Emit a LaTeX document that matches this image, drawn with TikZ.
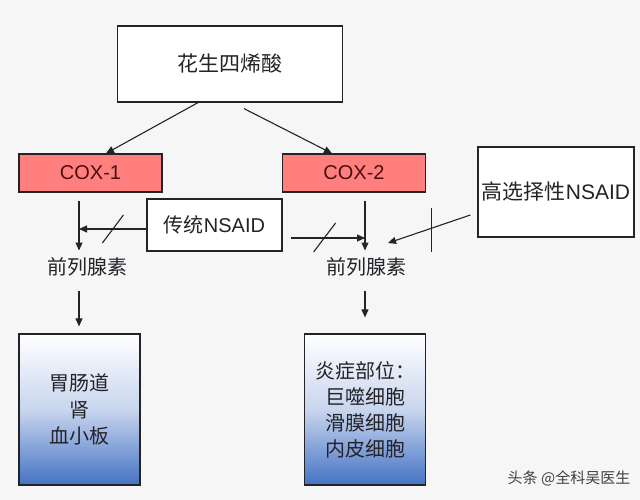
\documentclass[tikz,border=0pt]{standalone}
\usepackage{fontspec}
\setmainfont{Liberation Sans}
\newfontfamily\cjk{Noto Sans CJK SC}
\usetikzlibrary{arrows.meta}

\definecolor{bgcol}{RGB}{246,246,247}
\definecolor{coxred}{RGB}{255,127,127}
\definecolor{coxtext}{RGB}{74,14,14}
\definecolor{orgblue}{RGB}{68,114,196}
\definecolor{orgmid}{RGB}{200,213,238}
\definecolor{inkcol}{RGB}{35,35,40}

\tikzset{
  box/.style={draw=inkcol, line width=1.2pt, inner sep=0pt, text=inkcol},
  coxbox/.style={box, fill=coxred, text=coxtext, minimum width=143pt, minimum height=38pt, font=\fontsize{20}{24}\selectfont},
  organ/.style={box, top color=white, bottom color=orgblue, middle color=orgmid, minimum width=121pt, minimum height=151pt},
  plain/.style={inner sep=0pt, text=inkcol, font=\cjk\fontsize{20}{24}\selectfont},
  arr/.style={draw=inkcol, line width=1.1pt, -{Triangle[length=8pt,width=7pt]}},
  cut/.style={draw=inkcol, line width=1.1pt}
}

\begin{document}
\begin{tikzpicture}[x=1pt, y=-1pt]
    \fill[bgcol] (0,0) rectangle (640,500);
    \useasboundingbox (0,0) rectangle (640,500);

    \node[box, fill=white, minimum width=225pt, minimum height=76pt, font=\cjk\fontsize{21}{25}\selectfont] (aa) at (230,64) {花生四烯酸};
    \node[coxbox] (cox1) at (90.5,173) {COX-1};
    \node[coxbox] (cox2) at (354,173) {COX-2};
    \node[box, fill=white, minimum width=135pt, minimum height=52pt, font=\fontsize{20}{24}\selectfont] (trad) at (214.5,225) {{\cjk 传统}NSAID};
    \node[box, fill=white, minimum width=156pt, minimum height=90pt, font=\fontsize{21}{25}\selectfont] (sel) at (556,192) {{\cjk 高选择性}NSAID};
    \node[plain] (pg1) at (87,267) {前列腺素};
    \node[plain] (pg2) at (366,267) {前列腺素};
    \node[organ, align=center, font=\cjk\fontsize{20}{26.5}\selectfont] (gi) at (79.5,409.5) {胃肠道\\肾\\血小板};
    \node[organ, align=left, font=\cjk\fontsize{20}{26}\selectfont] (inf) at (365,409.5) {炎症部位：\\\hspace*{10pt}巨噬细胞\\\hspace*{10pt}滑膜细胞\\\hspace*{10pt}内皮细胞};
    \node[inner sep=0pt, text=black!75, font=\cjk\fontsize{15}{18}\selectfont] (mark) at (569,478) {头条 @全科吴医生};

    \coordinate (s1) at ([xshift=-11.5pt,yshift=-8pt]cox1.south);
    \coordinate (s2) at ([xshift=11pt,yshift=-8pt]cox2.south);
    \coordinate (h1) at ([yshift=-4pt]trad.west);
    \coordinate (h2) at ([xshift=8pt,yshift=-13pt]trad.east);

    \draw[arr] ([xshift=-32pt]aa.south) -- ([xshift=15.5pt]cox1.north);
    \draw[arr] ([xshift=14pt,yshift=-6pt]aa.south) -- ([xshift=-22pt]cox2.north);
    \draw[arr, shorten >=7pt] (s1) -- (s1 |- pg1.north);
    \draw[arr, shorten >=7pt] (s2) -- (s2 |- pg2.north);
    \draw[arr] (h1) -- (h1 -| s1);
    \draw[arr] (h2) -- (h2 -| s2);
    \draw[arr] ([xshift=-7pt,yshift=-23pt]sel.west) -- ([xshift=22pt,yshift=24pt]pg2.center);
    \draw[arr, shorten <=14pt, shorten >=7pt] (s1 |- pg1.south) -- (s1 |- gi.north);
    \draw[arr, shorten <=14pt, shorten >=16pt] (s2 |- pg2.south) -- (s2 |- inf.north);

    % blocking marks
    \draw[cut] ([shift={(-44,14)}]h1) -- ++(21,-28);
    \draw[cut] ([shift={(23,14)}]h2) -- ++(22,-29);
    \draw[cut] ([shift={(-46,16)}]sel.west) -- ++(0,44);
\end{tikzpicture}
\end{document}
